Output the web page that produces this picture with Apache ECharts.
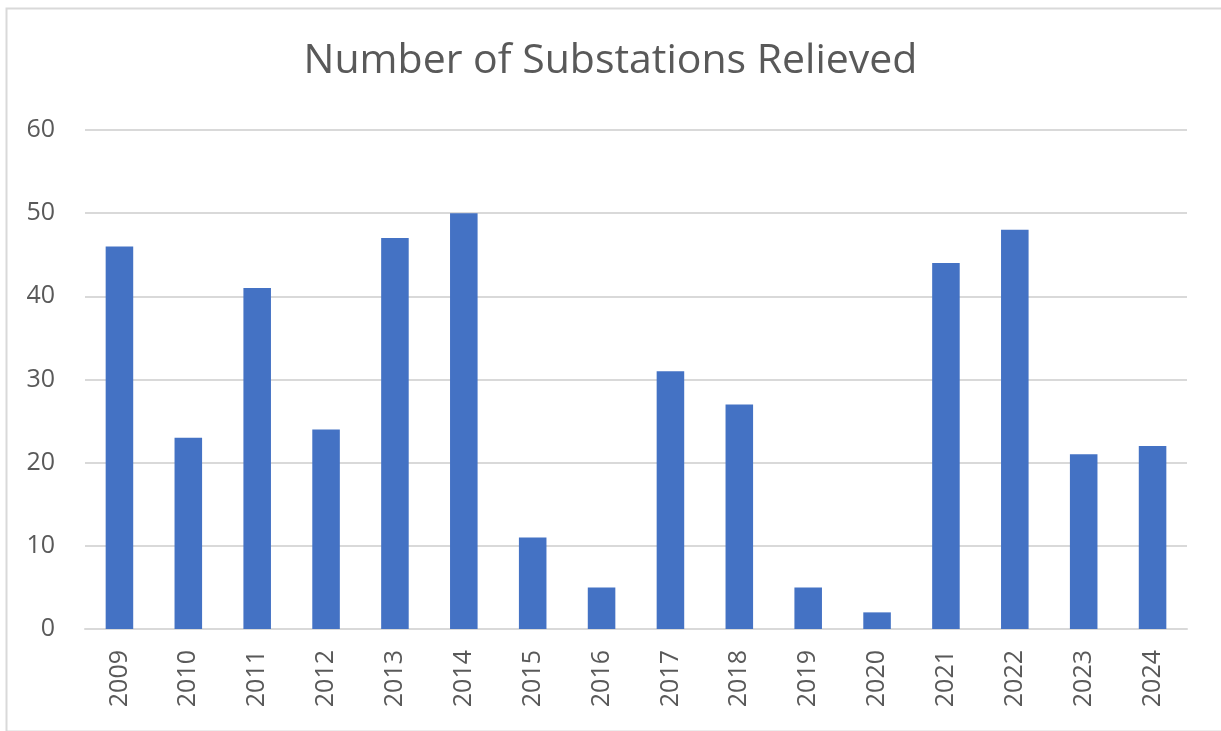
<!DOCTYPE html>
<html>
<head>
<meta charset="utf-8">
<script src="https://cdn.jsdelivr.net/npm/echarts@6/dist/echarts.min.js"></script>
<style>
html,body{margin:0;padding:0;background:#fff;}
#chart{width:1221px;height:731px;}
</style>
</head>
<body>
<div id="chart"></div>
<script>
const categories = ['2009','2010','2011','2012','2013','2014','2015','2016','2017','2018','2019','2020','2021','2022','2023','2024'];
const values = [46,23,41,24,47,50,11,5,31,27,5,2,44,48,21,22];
const chartTitle = 'Number of Substations Relieved';

const chart = echarts.init(document.getElementById('chart'), null, {renderer:'canvas'});
chart.setOption({
  backgroundColor:'#ffffff',
  animation:false,
  graphic:[{
    type:'rect', left:4, top:6, silent:true,
    shape:{width:1240, height:723},
    style:{fill:'none', stroke:'#d9d9d9', lineWidth:2}
  }],
  title:{
    text:chartTitle, left:'center', top:36,
    textStyle:{fontFamily:'Open Sans', fontSize:41, fontWeight:'normal', color:'#595959'}
  },
  grid:{left:85, right:34, top:130, bottom:102, containLabel:false},
  xAxis:{
    type:'category', data:categories,
    axisLine:{show:true, lineStyle:{color:'#d9d9d9', width:2}},
    axisTick:{show:false},
    axisLabel:{rotate:90, margin:21, fontFamily:'Open Sans', fontSize:25, color:'#595959'}
  },
  yAxis:{
    type:'value', min:0, max:60, interval:10,
    axisLine:{show:false}, axisTick:{show:false},
    splitLine:{lineStyle:{color:'#d9d9d9', width:2}},
    axisLabel:{margin:30, fontFamily:'Open Sans', fontSize:25, color:'#595959'}
  },
  series:[{
    type:'bar', data:values, barWidth:'40%',
    itemStyle:{color:'#4472C4'}
  }]
});
</script>
</body>
</html>
